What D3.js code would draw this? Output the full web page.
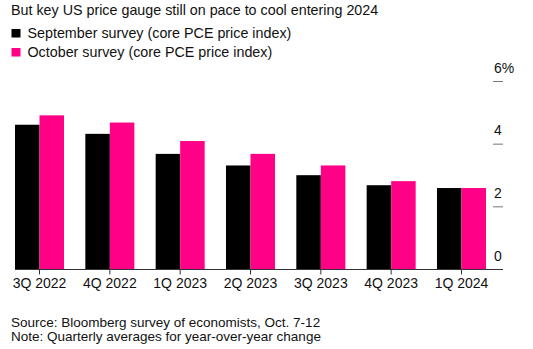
<!DOCTYPE html>
<html>
<head>
<meta charset="utf-8">
<script src="https://cdn.jsdelivr.net/npm/d3@7"></script>
<style>
  body { margin: 0; background: #fff; }
  svg { font-family: "Liberation Sans", Arial, Helvetica, sans-serif; }
</style>
</head>
<body>
<svg id="chart" width="533" height="349"></svg>
<script>
// quarterly averages, core PCE yoy %
var quarters = ["3Q 2022", "4Q 2022", "1Q 2023", "2Q 2023", "3Q 2023", "4Q 2023", "1Q 2024"];
var septSurvey = [4.62, 4.33, 3.69, 3.32, 3.01, 2.69, 2.6];
var octSurvey = [4.92, 4.69, 4.1, 3.69, 3.32, 2.82, 2.6];
var yTicks = [0, 2, 4, 6];
var seriesNames = ["September survey (core PCE price index)", "October survey (core PCE price index)"];

var colors = ["#000000", "#ff0087"];

var svg = d3.select("#chart");

var x = d3.scaleBand()
	.domain(quarters)
	.range([15, 486])
	.paddingInner(0.303)
	.paddingOuter(0);

var xs = d3.scaleBand()
	.domain([0, 1])
	.range([0, x.bandwidth()]);

var y = d3.scaleLinear()
	.domain([0, 6])
	.range([269.5, 81.5]);

// title
svg.append("text")
	.attr("x", 11)
	.attr("y", 15)
	.attr("font-size", "14.3px")
	.attr("fill", "#111")
	.text("But key US price gauge still on pace to cool entering 2024");

// legend
var legend = svg.selectAll(".legend")
	.data(seriesNames)
	.enter().append("g")
		.attr("class", "legend")
		.attr("transform", function(d, i) { return "translate(0," + (i * 19) + ")"; });

legend.append("rect")
	.attr("x", 11.5)
	.attr("y", 29)
	.attr("width", 9)
	.attr("height", 8.5)
	.attr("fill", function(d, i) { return colors[i]; });

legend.append("text")
	.attr("x", 27.5)
	.attr("y", 37.5)
	.attr("font-size", "14.3px")
	.attr("fill", "#111")
	.text(function(d) { return d; });

// bars
var groups = svg.selectAll(".group")
	.data(quarters)
	.enter().append("g")
		.attr("class", "group")
		.attr("transform", function(d) { return "translate(" + x(d) + ",0)"; });

groups.selectAll("rect")
	.data(function(d, i) { return [septSurvey[i], octSurvey[i]]; })
	.enter().append("rect")
		.attr("x", function(d, j) { return xs(j); })
		.attr("width", xs.bandwidth())
		.attr("y", function(d) { return y(d); })
		.attr("height", function(d) { return y(0) - y(d); })
		.attr("fill", function(d, j) { return colors[j]; });

// x axis
var xAxis = svg.append("g")
	.attr("transform", "translate(0," + y(0) + ")")
	.call(d3.axisBottom(x).tickSize(5).tickSizeOuter(0));

xAxis.select(".domain").remove();
xAxis.append("line")
	.attr("x1", 15)
	.attr("x2", 503)
	.attr("stroke", "#333")
	.attr("stroke-width", 1);
xAxis.selectAll(".tick line").attr("stroke", "#333");
xAxis.selectAll(".tick text")
	.attr("y", 18)
	.attr("dy", 0)
	.attr("font-size", "14px")
	.attr("font-family", "Liberation Sans, Arial, sans-serif")
	.attr("fill", "#111");

// y axis on the right, labels sit above short dashes
var yAxis = svg.append("g");

yAxis.selectAll(".ydash")
	.data(yTicks.filter(function(d) { return d > 0; }))
	.enter().append("line")
		.attr("class", "ydash")
		.attr("x1", 493)
		.attr("x2", 503)
		.attr("y1", function(d) { return y(d); })
		.attr("y2", function(d) { return y(d); })
		.attr("stroke", "#777")
		.attr("stroke-width", 1);

yAxis.selectAll(".ylab")
	.data(yTicks)
	.enter().append("text")
		.attr("class", "ylab")
		.attr("x", 494)
		.attr("y", function(d) { return y(d) - 9; })
		.attr("font-size", "14px")
		.attr("fill", "#111")
		.text(function(d) { return d == 6 ? d + "%" : d; });

// footnotes
svg.append("text")
	.attr("x", 11)
	.attr("y", 327)
	.attr("font-size", "13.5px")
	.attr("fill", "#111")
	.text("Source: Bloomberg survey of economists, Oct. 7-12");

svg.append("text")
	.attr("x", 11)
	.attr("y", 340.5)
	.attr("font-size", "13.5px")
	.attr("fill", "#111")
	.text("Note: Quarterly averages for year-over-year change");
</script>
</body>
</html>
